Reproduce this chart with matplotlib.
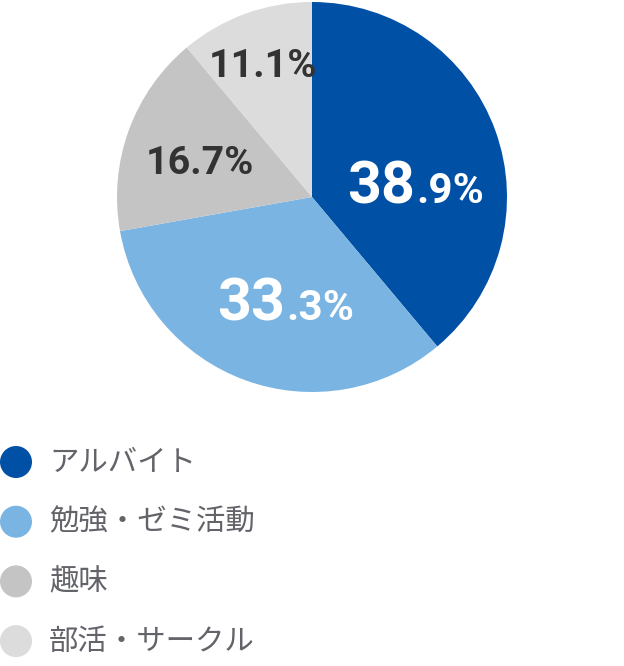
import numpy as np
import matplotlib.pyplot as plt
from matplotlib.patches import Circle

plt.rcParams['font.family'] = ['Noto Sans CJK JP', 'DejaVu Sans']

# data
categories = ['アルバイト', '勉強・ゼミ活動', '趣味', '部活・サークル']
values = [38.9, 33.3, 16.7, 11.1]
colors = ['#0050a5', '#7ab4e2', '#c4c4c4', '#dcdcdc']

W, H = 624, 666
fig = plt.figure(figsize=(W / 100, H / 100), dpi=100)

# pie axes: centre (312,197), radius 195 px
cx, cy, R = 312, 197, 195
ax = fig.add_axes([(cx - R) / W, (H - cy - R) / H, 2 * R / W, 2 * R / H])
ax.pie(values, colors=colors, startangle=90, counterclock=False, radius=1,
       wedgeprops=dict(linewidth=0))
ax.set_xlim(-1, 1)
ax.set_ylim(-1, 1)
ax.set_aspect('equal')
ax.axis('off')

numfont = ['Roboto', 'DejaVu Sans']
big_fs = 42 / 0.711 / (100 / 72)
small_fs = 30 / 0.711 / (100 / 72)
mid_fs = 28 / 0.711 / (100 / 72)

# big labels split into integer part + decimal part
big_pos = [(0.528, -0.031), (-0.138, -0.631)]
for v, (x, y) in zip(values[:2], big_pos):
    ip, dp = f"{v:.1f}".split('.')
    ax.text(x, y, ip, ha='right', va='baseline', color='white',
            fontsize=big_fs, fontweight='bold', family=numfont)
    ax.text(x + 0.005, y, '.' + dp + '%', ha='left', va='baseline', color='white',
            fontsize=small_fs, fontweight='bold', family=numfont)

small_pos = [(-0.574, 0.118), (-0.251, 0.615)]
for v, (x, y) in zip(values[2:], small_pos):
    ax.text(x, y, f"{v:.1f}%", ha='center', va='baseline', color='#333333',
            fontsize=mid_fs, fontweight='bold', family=numfont)

# legend
lg = fig.add_axes([0, 0, 1, 1])
lg.set_xlim(0, W)
lg.set_ylim(H, 0)
lg.axis('off')
for i, (c, lab) in enumerate(zip(categories, colors)):
    y = 462 + i * 59.7
    lg.add_patch(Circle((16, y), 16, color=lab, lw=0))
    lg.text(49, y, c, ha='left', va='center', fontsize=21.2, color='#63646a')

fig.savefig('out.png', dpi=100)
